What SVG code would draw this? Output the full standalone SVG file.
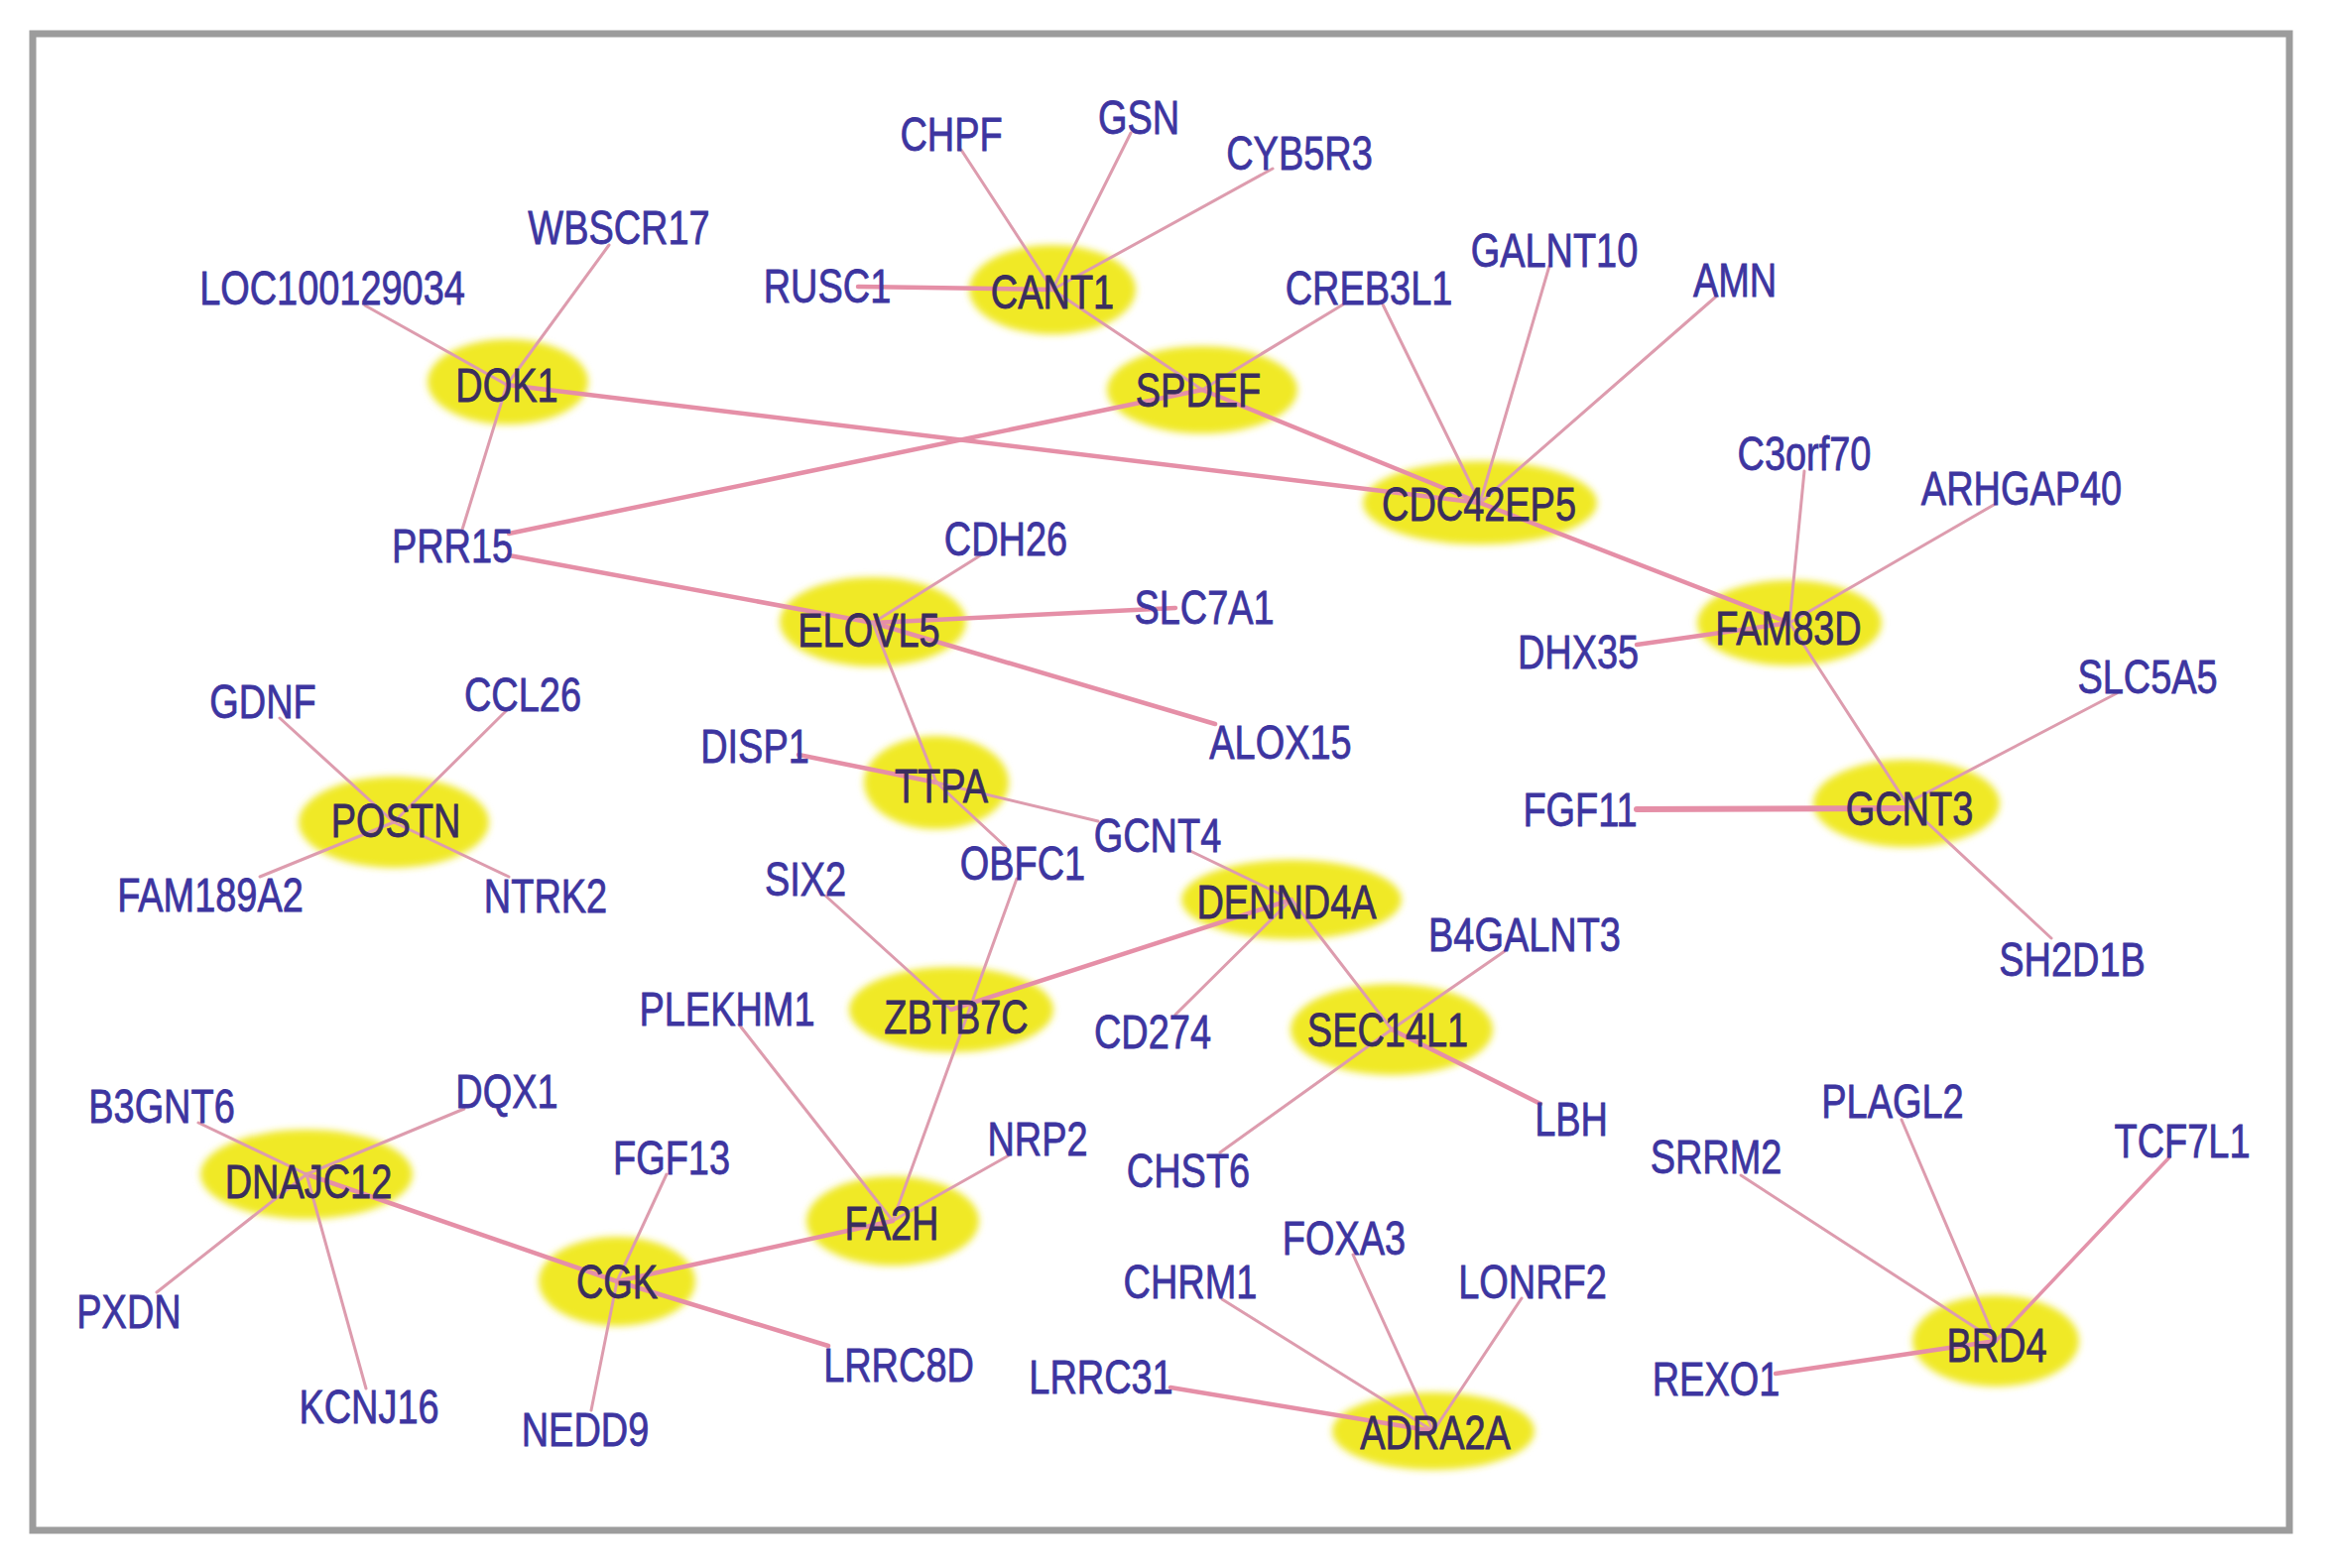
<svg xmlns="http://www.w3.org/2000/svg" width="2355" height="1581" viewBox="0 0 2355 1581">
<style>
.leaf{font-family:"Liberation Sans",Arial,sans-serif;font-size:48px;fill:#3d35a0;stroke:#3d35a0;stroke-width:0.8px;text-anchor:middle}
.hubt{font-family:"Liberation Sans",Arial,sans-serif;font-size:48px;fill:#3a2d5e;stroke:#3a2d5e;stroke-width:0.8px;text-anchor:middle}
.hub{fill:#f0e928;filter:url(#soft)}
.e{stroke:#dd9cae;stroke-width:3;fill:none;stroke-linecap:round}
.t{stroke:#e58fa7;stroke-width:4.5}
</style>
<defs>
<filter id="soft" x="-20%" y="-30%" width="140%" height="160%"><feGaussianBlur stdDeviation="3.5"/></filter>
</defs>
<rect x="0" y="0" width="2355" height="1581" fill="#ffffff"/>
<rect x="33" y="34" width="2275" height="1509" fill="#ffffff" stroke="#9c9c9c" stroke-width="7"/>

<g id="hub-shapes">
<ellipse id="sh-CANT1" class="hub" cx="1061" cy="292" rx="84" ry="45"/>
<ellipse id="sh-DOK1" class="hub" cx="512" cy="385" rx="81" ry="43"/>
<ellipse id="sh-SPDEF" class="hub" cx="1212" cy="393" rx="96" ry="44"/>
<ellipse id="sh-CDC42EP5" class="hub" cx="1492" cy="507" rx="118" ry="42"/>
<ellipse id="sh-ELOVL5" class="hub" cx="880" cy="627" rx="94" ry="45"/>
<ellipse id="sh-FAM83D" class="hub" cx="1804" cy="628" rx="93" ry="43"/>
<ellipse id="sh-TTPA" class="hub" cx="944" cy="789" rx="73" ry="47"/>
<ellipse id="sh-POSTN" class="hub" cx="397" cy="829" rx="96" ry="46"/>
<ellipse id="sh-GCNT3" class="hub" cx="1922" cy="810" rx="94" ry="44"/>
<ellipse id="sh-DENND4A" class="hub" cx="1302" cy="907" rx="111" ry="40"/>
<ellipse id="sh-ZBTB7C" class="hub" cx="959" cy="1018" rx="103" ry="43"/>
<ellipse id="sh-SEC14L1" class="hub" cx="1403" cy="1038" rx="102" ry="46"/>
<ellipse id="sh-DNAJC12" class="hub" cx="309" cy="1184" rx="107" ry="45"/>
<ellipse id="sh-FA2H" class="hub" cx="900" cy="1231" rx="87" ry="45"/>
<ellipse id="sh-CGK" class="hub" cx="622" cy="1292" rx="79" ry="45"/>
<ellipse id="sh-ADRA2A" class="hub" cx="1445" cy="1443" rx="102" ry="39"/>
<ellipse id="sh-BRD4" class="hub" cx="2012" cy="1352" rx="84" ry="46"/>
</g>

<g id="connectors" class="e">
<line x1="1061" y1="292" x2="969" y2="151"/>
<line x1="1061" y1="292" x2="1140" y2="134"/>
<line x1="1061" y1="292" x2="1283" y2="170"/>
<line class="t" x1="1061" y1="292" x2="865" y2="289"/>
<line x1="1061" y1="292" x2="1212" y2="393"/>
<line x1="511" y1="388" x2="368" y2="308"/>
<line x1="511" y1="388" x2="614" y2="247"/>
<line x1="511" y1="388" x2="466" y2="534"/>
<line class="t" x1="511" y1="388" x2="1492" y2="507"/>
<line class="t" x1="1212" y1="393" x2="513" y2="538"/>
<line x1="1212" y1="393" x2="1354" y2="307"/>
<line class="t" x1="1212" y1="393" x2="1492" y2="507"/>
<line x1="1492" y1="507" x2="1394" y2="307"/>
<line x1="1492" y1="507" x2="1562" y2="268"/>
<line x1="1492" y1="507" x2="1730" y2="299"/>
<line class="t" x1="1492" y1="507" x2="1804" y2="628"/>
<line x1="1804" y1="628" x2="1819" y2="475"/>
<line x1="1804" y1="628" x2="2010" y2="509"/>
<line class="t" x1="1804" y1="628" x2="1650" y2="650"/>
<line x1="1804" y1="628" x2="1922" y2="810"/>
<line class="t" style="stroke-width:6" x1="1922" y1="815" x2="1650" y2="816"/>
<line x1="1922" y1="810" x2="2134" y2="699"/>
<line x1="1922" y1="810" x2="2068" y2="946"/>
<line class="t" x1="880" y1="628" x2="513" y2="560"/>
<line x1="880" y1="628" x2="990" y2="559"/>
<line class="t" x1="880" y1="628" x2="1185" y2="613"/>
<line class="t" x1="880" y1="628" x2="1225" y2="730"/>
<line x1="880" y1="628" x2="944" y2="789"/>
<line class="t" x1="944" y1="789" x2="805" y2="761"/>
<line x1="944" y1="789" x2="1107" y2="828"/>
<line x1="944" y1="789" x2="1014" y2="854"/>
<line x1="1302" y1="907" x2="1200" y2="858"/>
<line x1="900" y1="1231" x2="1025" y2="886"/>
<line x1="959" y1="1018" x2="832" y2="903"/>
<line class="t" x1="959" y1="1018" x2="1302" y2="907"/>
<line x1="1302" y1="907" x2="1185" y2="1023"/>
<line x1="1302" y1="907" x2="1403" y2="1038"/>
<line x1="1403" y1="1038" x2="1517" y2="959"/>
<line class="t" x1="1403" y1="1038" x2="1553" y2="1113"/>
<line x1="1403" y1="1038" x2="1230" y2="1162"/>
<line x1="900" y1="1231" x2="745" y2="1033"/>
<line x1="900" y1="1231" x2="1017" y2="1165"/>
<line class="t" x1="900" y1="1231" x2="622" y2="1292"/>
<line x1="622" y1="1292" x2="672" y2="1184"/>
<line x1="622" y1="1292" x2="596" y2="1422"/>
<line class="t" x1="622" y1="1292" x2="835" y2="1357"/>
<line class="t" x1="309" y1="1184" x2="622" y2="1292"/>
<line x1="309" y1="1184" x2="200" y2="1132"/>
<line x1="309" y1="1184" x2="468" y2="1118"/>
<line x1="309" y1="1184" x2="158" y2="1303"/>
<line x1="309" y1="1184" x2="369" y2="1400"/>
<line x1="397" y1="829" x2="282" y2="724"/>
<line x1="397" y1="829" x2="511" y2="716"/>
<line x1="397" y1="829" x2="262" y2="884"/>
<line x1="397" y1="829" x2="513" y2="884"/>
<line x1="1445" y1="1443" x2="1232" y2="1310"/>
<line x1="1445" y1="1443" x2="1364" y2="1265"/>
<line x1="1445" y1="1443" x2="1534" y2="1309"/>
<line class="t" x1="1445" y1="1443" x2="1180" y2="1399"/>
<line x1="2012" y1="1352" x2="1755" y2="1185"/>
<line x1="2012" y1="1352" x2="1917" y2="1129"/>
<line x1="2012" y1="1352" x2="2187" y2="1167" style="stroke:#e393aa;stroke-width:3.5"/>
<line class="t" x1="2012" y1="1352" x2="1790" y2="1385"/>
</g>

<g id="hubs">
<g id="CANT1"><text class="hubt" transform="translate(1061,311) scale(0.79,1)">CANT1</text></g>
<g id="DOK1"><text class="hubt" transform="translate(511,405) scale(0.79,1)">DOK1</text></g>
<g id="SPDEF"><text class="hubt" transform="translate(1208,410) scale(0.79,1)">SPDEF</text></g>
<g id="CDC42EP5"><text class="hubt" transform="translate(1491,525) scale(0.79,1)">CDC42EP5</text></g>
<g id="ELOVL5"><text class="hubt" transform="translate(876,652) scale(0.79,1)">ELOVL5</text></g>
<g id="FAM83D"><text class="hubt" transform="translate(1803,650) scale(0.79,1)">FAM83D</text></g>
<g id="TTPA"><text class="hubt" transform="translate(949,809) scale(0.79,1)">TTPA</text></g>
<g id="POSTN"><text class="hubt" transform="translate(399,844) scale(0.79,1)">POSTN</text></g>
<g id="GCNT3"><text class="hubt" transform="translate(1925,832) scale(0.79,1)">GCNT3</text></g>
<g id="DENND4A"><text class="hubt" transform="translate(1297,926) scale(0.79,1)">DENND4A</text></g>
<g id="ZBTB7C"><text class="hubt" transform="translate(964,1042) scale(0.79,1)">ZBTB7C</text></g>
<g id="SEC14L1"><text class="hubt" transform="translate(1399,1055) scale(0.79,1)">SEC14L1</text></g>
<g id="DNAJC12"><text class="hubt" transform="translate(311,1208) scale(0.79,1)">DNAJC12</text></g>
<g id="FA2H"><text class="hubt" transform="translate(899,1250) scale(0.79,1)">FA2H</text></g>
<g id="CGK"><text class="hubt" transform="translate(622,1309) scale(0.79,1)">CGK</text></g>
<g id="ADRA2A"><text class="hubt" transform="translate(1447,1461) scale(0.79,1)">ADRA2A</text></g>
<g id="BRD4"><text class="hubt" transform="translate(2013,1373) scale(0.79,1)">BRD4</text></g>
</g>

<g id="leaves">
<g id="CHPF"><text class="leaf" transform="translate(959,152) scale(0.79,1)">CHPF</text></g>
<g id="GSN"><text class="leaf" transform="translate(1148,135) scale(0.79,1)">GSN</text></g>
<g id="CYB5R3"><text class="leaf" transform="translate(1310,171) scale(0.79,1)">CYB5R3</text></g>
<g id="RUSC1"><text class="leaf" transform="translate(834,305) scale(0.79,1)">RUSC1</text></g>
<g id="WBSCR17"><text class="leaf" transform="translate(624,246) scale(0.79,1)">WBSCR17</text></g>
<g id="LOC100129034"><text class="leaf" transform="translate(335,307) scale(0.79,1)">LOC100129034</text></g>
<g id="CREB3L1"><text class="leaf" transform="translate(1380,307) scale(0.79,1)">CREB3L1</text></g>
<g id="GALNT10"><text class="leaf" transform="translate(1567,269) scale(0.79,1)">GALNT10</text></g>
<g id="AMN"><text class="leaf" transform="translate(1749,299) scale(0.79,1)">AMN</text></g>
<g id="C3orf70"><text class="leaf" transform="translate(1819,474) scale(0.79,1)">C3orf70</text></g>
<g id="ARHGAP40"><text class="leaf" transform="translate(2038,509) scale(0.79,1)">ARHGAP40</text></g>
<g id="PRR15"><text class="leaf" transform="translate(456,567) scale(0.79,1)">PRR15</text></g>
<g id="CDH26"><text class="leaf" transform="translate(1014,560) scale(0.79,1)">CDH26</text></g>
<g id="SLC7A1"><text class="leaf" transform="translate(1214,629) scale(0.79,1)">SLC7A1</text></g>
<g id="DHX35"><text class="leaf" transform="translate(1591,674) scale(0.79,1)">DHX35</text></g>
<g id="SLC5A5"><text class="leaf" transform="translate(2165,699) scale(0.79,1)">SLC5A5</text></g>
<g id="ALOX15"><text class="leaf" transform="translate(1291,765) scale(0.79,1)">ALOX15</text></g>
<g id="DISP1"><text class="leaf" transform="translate(761,769) scale(0.79,1)">DISP1</text></g>
<g id="GDNF"><text class="leaf" transform="translate(265,724) scale(0.79,1)">GDNF</text></g>
<g id="CCL26"><text class="leaf" transform="translate(527,717) scale(0.79,1)">CCL26</text></g>
<g id="FAM189A2"><text class="leaf" transform="translate(212,919) scale(0.79,1)">FAM189A2</text></g>
<g id="NTRK2"><text class="leaf" transform="translate(550,920) scale(0.79,1)">NTRK2</text></g>
<g id="FGF11"><text class="leaf" transform="translate(1593,833) scale(0.79,1)">FGF11</text></g>
<g id="SH2D1B"><text class="leaf" transform="translate(2089,984) scale(0.79,1)">SH2D1B</text></g>
<g id="GCNT4"><text class="leaf" transform="translate(1167,859) scale(0.79,1)">GCNT4</text></g>
<g id="OBFC1"><text class="leaf" transform="translate(1031,887) scale(0.79,1)">OBFC1</text></g>
<g id="SIX2"><text class="leaf" transform="translate(812,903) scale(0.79,1)">SIX2</text></g>
<g id="B4GALNT3"><text class="leaf" transform="translate(1537,959) scale(0.79,1)">B4GALNT3</text></g>
<g id="PLEKHM1"><text class="leaf" transform="translate(733,1034) scale(0.79,1)">PLEKHM1</text></g>
<g id="CD274"><text class="leaf" transform="translate(1162,1057) scale(0.79,1)">CD274</text></g>
<g id="LBH"><text class="leaf" transform="translate(1584,1145) scale(0.79,1)">LBH</text></g>
<g id="B3GNT6"><text class="leaf" transform="translate(163,1132) scale(0.79,1)">B3GNT6</text></g>
<g id="DQX1"><text class="leaf" transform="translate(511,1117) scale(0.79,1)">DQX1</text></g>
<g id="FGF13"><text class="leaf" transform="translate(677,1184) scale(0.79,1)">FGF13</text></g>
<g id="NRP2"><text class="leaf" transform="translate(1046,1165) scale(0.79,1)">NRP2</text></g>
<g id="CHST6"><text class="leaf" transform="translate(1198,1197) scale(0.79,1)">CHST6</text></g>
<g id="PLAGL2"><text class="leaf" transform="translate(1908,1127) scale(0.79,1)">PLAGL2</text></g>
<g id="SRRM2"><text class="leaf" transform="translate(1730,1183) scale(0.79,1)">SRRM2</text></g>
<g id="TCF7L1"><text class="leaf" transform="translate(2200,1167) scale(0.79,1)">TCF7L1</text></g>
<g id="FOXA3"><text class="leaf" transform="translate(1355,1265) scale(0.79,1)">FOXA3</text></g>
<g id="CHRM1"><text class="leaf" transform="translate(1200,1309) scale(0.79,1)">CHRM1</text></g>
<g id="LONRF2"><text class="leaf" transform="translate(1545,1309) scale(0.79,1)">LONRF2</text></g>
<g id="PXDN"><text class="leaf" transform="translate(130,1339) scale(0.79,1)">PXDN</text></g>
<g id="LRRC8D"><text class="leaf" transform="translate(906,1393) scale(0.79,1)">LRRC8D</text></g>
<g id="LRRC31"><text class="leaf" transform="translate(1110,1405) scale(0.79,1)">LRRC31</text></g>
<g id="REXO1"><text class="leaf" transform="translate(1730,1407) scale(0.79,1)">REXO1</text></g>
<g id="KCNJ16"><text class="leaf" transform="translate(372,1435) scale(0.79,1)">KCNJ16</text></g>
<g id="NEDD9"><text class="leaf" transform="translate(590,1458) scale(0.79,1)">NEDD9</text></g>
</g>
</svg>
